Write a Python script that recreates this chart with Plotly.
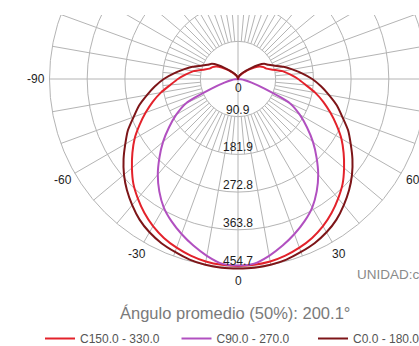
import numpy as np
import plotly.graph_objects as go

# ---------------- data ----------------
gamma = list(range(0, 181, 5))  # vertical angle (0 = nadir)

c150_330 = [451, 450, 447, 441, 433, 423, 410, 394, 376, 357, 334, 311, 288, 262, 237, 213, 189,
            164, 145, 126, 109, 87, 73, 68, 60, 48, 36, 27, 19, 15, 11, 8, 6, 4, 2, 1, 0]
c90_270 = [450, 447, 433, 416, 398, 379, 358, 331, 301, 268, 236, 203, 172, 138, 68, 34, 17,
           7, 0, 0, 0, 0, 0, 0, 0, 0, 0, 0, 0, 0, 0, 0, 0, 0, 0, 0, 0]
c0_180 = [457, 457, 455, 451, 444, 437, 427, 414, 397, 379, 359, 337, 314, 293, 268, 247, 223,
          201, 179, 155, 133, 114, 94, 81, 73, 58, 41, 29, 22, 17, 12, 10, 7, 5, 4, 2, 0]

series_names = ["C150.0 - 330.0", "C90.0 - 270.0", "C0.0 - 180.0"]
series_colors = ["#e3222b", "#b150c0", "#7d1518"]

ring_values = [90.9, 181.9, 272.8, 363.8, 454.7]
ring_labels = ["90.9", "181.9", "272.8", "363.8", "454.7"]
angle_ticks = [-90, -60, -30, 0, 30, 60, 90]

avg_text = "Ángulo promedio (50%): 200.1°"
unit_text = "UNIDAD:cd"

# ---------------- geometry (pixels) ----------------
W, H = 419, 346
CX, CY = 238, 79          # centre of the polar diagram
R_OUT_PX = 188.5          # radius of outer ring in pixels
TOP_PX = 15               # top edge of the drawing area
r_max = ring_values[-1]
s = R_OUT_PX / r_max      # pixels per cd
plot_h = H - TOP_PX

FONT = "Liberation Sans, Arial, Helvetica, sans-serif"
GRID = "#b4b4b4"
LABEL = "#1e1e1e"


def to_xy(g_deg, r):
    g = np.radians(np.asarray(g_deg, dtype=float))
    r = np.asarray(r, dtype=float)
    return r * np.sin(g), -r * np.cos(g)


def paper_x(px):
    return px / W


def paper_y(py):
    return (H - py) / plot_h


fig = go.Figure()

# grid: rings
shapes = []
for rv in ring_values:
    shapes.append(dict(type="circle", xref="x", yref="y", x0=-rv, x1=rv, y0=-rv, y1=rv,
                       line=dict(color=GRID, width=1), layer="below"))
# grid: spokes every 10 deg (main axes through the centre)
for a in range(0, 360, 10):
    r0 = 0 if a % 90 == 0 else ring_values[0]
    (x0, x1), (y0, y1) = to_xy([a, a], [r0, ring_values[-1]])
    shapes.append(dict(type="line", xref="x", yref="y", x0=x0, x1=x1, y0=y0, y1=y1,
                       line=dict(color=GRID, width=1), layer="below"))
# grid: extra 5 deg spokes between first and second ring
for a in range(5, 360, 10):
    (x0, x1), (y0, y1) = to_xy([a, a], [ring_values[0], ring_values[1]])
    shapes.append(dict(type="line", xref="x", yref="y", x0=x0, x1=x1, y0=y0, y1=y1,
                       line=dict(color=GRID, width=1), layer="below"))

# curves
g_full = [-g for g in gamma[::-1]] + gamma[1:]
for name, vals, col in zip(series_names, [c150_330, c90_270, c0_180], series_colors):
    v_full = vals[::-1] + vals[1:]
    x, y = to_xy(g_full, v_full)
    fig.add_trace(go.Scatter(x=x, y=y, mode="lines", name=name,
                             line=dict(color=col, width=2, shape="spline", smoothing=0.6),
                             hoverinfo="skip"))

# labels
ann = []
R_LAB = 202 / s
for a in angle_ticks:
    x, y = to_xy(a, R_LAB)
    ann.append(dict(x=float(x), y=float(y), xref="x", yref="y", text=str(a), showarrow=False,
                    font=dict(size=12, color=LABEL, family=FONT), xanchor="center", yanchor="middle"))
ann.append(dict(x=0, y=0, xref="x", yref="y", text="0", showarrow=False, yshift=-9,
                font=dict(size=12, color=LABEL, family=FONT), xanchor="center", yanchor="middle"))
for rv, lab in zip(ring_values, ring_labels):
    ann.append(dict(x=0, y=-rv, xref="x", yref="y", text=lab, showarrow=False, yshift=7,
                    font=dict(size=12, color=LABEL, family=FONT), xanchor="center", yanchor="middle"))

ann.append(dict(x=paper_x(235), y=paper_y(313), xref="paper", yref="paper", text=avg_text,
                showarrow=False, font=dict(size=16.5, color="#7a7a7a", family=FONT),
                xanchor="center", yanchor="middle"))
ann.append(dict(x=paper_x(355), y=paper_y(274), xref="paper", yref="paper", text=unit_text,
                showarrow=False, font=dict(size=13.5, color="#8a8a8a", family=FONT),
                xanchor="left", yanchor="middle"))

fig.update_layout(
    width=W, height=H,
    margin=dict(l=0, r=0, t=TOP_PX, b=0, pad=0, autoexpand=False),
    paper_bgcolor="white", plot_bgcolor="white",
    xaxis=dict(range=[-CX / s, (W - CX) / s], visible=False, fixedrange=True),
    yaxis=dict(range=[-(H - CY) / s, (CY - TOP_PX) / s], visible=False, fixedrange=True),
    shapes=shapes, annotations=ann,
    showlegend=True,
    legend=dict(orientation="h", x=paper_x(40), y=paper_y(338.5), xanchor="left", yanchor="middle",
                entrywidth=91.5, entrywidthmode="pixels", bgcolor="rgba(0,0,0,0)",
                font=dict(size=12, color="#555555", family=FONT)),
)

fig.write_html("out.html",
               config={"displayModeBar": False},
               post_script="document.body.style.margin='0';document.body.style.overflow='hidden';")
